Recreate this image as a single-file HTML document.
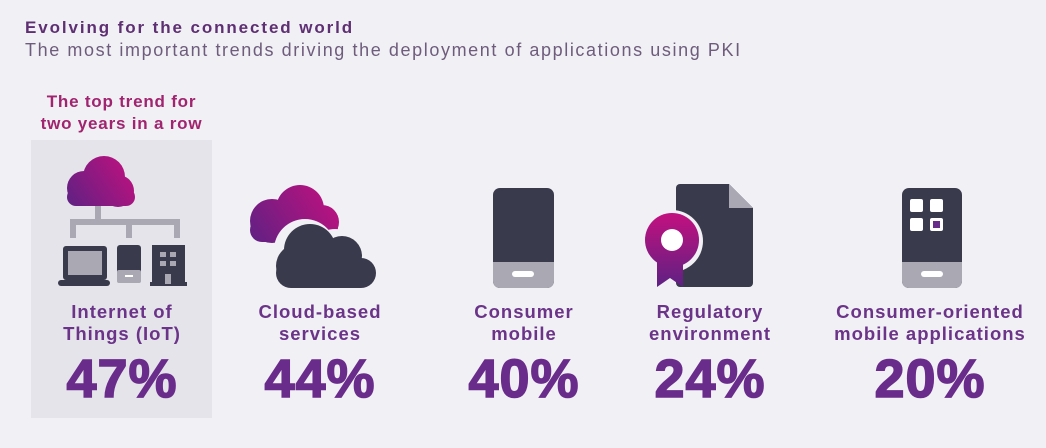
<!DOCTYPE html>
<html><head><meta charset="utf-8"><style>
body{margin:0;width:1046px;height:448px;background:#f1f0f5;font-family:"Liberation Sans",sans-serif;position:relative;overflow:hidden}
.t{position:absolute;white-space:nowrap}
.lab{position:absolute;text-align:center;font-weight:bold;font-size:18.5px;line-height:22px;color:#6b3488;width:240px;letter-spacing:1px}
.pc{position:absolute;text-align:center;font-weight:bold;font-size:54px;color:#6a2c8b;width:240px;top:348px;letter-spacing:1px;-webkit-text-stroke:1.5px #6a2c8b}
</style></head><body>
<div class="t" style="left:25px;top:18px;font-size:17px;font-weight:bold;color:#5e2f72;letter-spacing:1.9px">Evolving for the connected world</div>
<div class="t" style="left:25px;top:40px;font-size:18px;color:#6e5c7c;letter-spacing:1.6px">The most important trends driving the deployment of applications using PKI</div>
<div class="t" style="left:31px;top:91px;width:181px;text-align:center;font-size:17px;font-weight:bold;line-height:22px;color:#a0246f;letter-spacing:0.8px">The top trend for<br>two years in a row</div>
<div style="position:absolute;left:31px;top:140px;width:181px;height:278px;background:#e5e4ea"></div>
<svg width="1046" height="448" style="position:absolute;left:0;top:0">
<defs>
<linearGradient id="g1" gradientUnits="userSpaceOnUse" x1="67" y1="206" x2="135" y2="160"><stop offset="0" stop-color="#5e2183"/><stop offset="1" stop-color="#c4107f"/></linearGradient>
<linearGradient id="g2" gradientUnits="userSpaceOnUse" x1="250" y1="245" x2="338" y2="187"><stop offset="0" stop-color="#5e2183"/><stop offset="1" stop-color="#c4107f"/></linearGradient>
<linearGradient id="g3" gradientUnits="userSpaceOnUse" x1="672" y1="287" x2="672" y2="212"><stop offset="0" stop-color="#5e2183"/><stop offset="1" stop-color="#c4107f"/></linearGradient>
</defs>
<!-- IoT -->
<g fill="url(#g1)"><circle cx="84" cy="188" r="17"/><circle cx="104" cy="177" r="21"/><circle cx="118" cy="191" r="16"/><rect x="67" y="188" width="68" height="18" rx="9"/></g>
<g fill="#a9a8b3"><rect x="95" y="206" width="6" height="13"/><rect x="70" y="219" width="110" height="6"/><rect x="70" y="219" width="6" height="19"/><rect x="126" y="219" width="6" height="19"/><rect x="174" y="219" width="6" height="19"/></g>
<rect x="63" y="246" width="44" height="34" rx="3" fill="#3a3a4d"/><rect x="68" y="251" width="34" height="24" fill="#a9a8b3"/><rect x="58" y="280" width="52" height="6" rx="3" fill="#3a3a4d"/>
<rect x="117" y="245" width="24" height="38" rx="3" fill="#3a3a4d"/><rect x="117" y="270" width="24" height="13" rx="2" fill="#a9a8b3"/><rect x="125" y="275" width="8" height="2" fill="#fff"/>
<rect x="152" y="245" width="33" height="41" fill="#3a3a4d"/><rect x="150" y="282" width="37" height="4" fill="#3a3a4d"/>
<g fill="#a9a8b3"><rect x="160" y="252" width="6" height="5"/><rect x="170" y="252" width="6" height="5"/><rect x="160" y="261" width="6" height="5"/><rect x="170" y="261" width="6" height="5"/><rect x="165" y="274" width="6" height="10"/></g>
<!-- Cloud-based -->
<g fill="url(#g2)"><circle cx="272" cy="221" r="22"/><circle cx="300" cy="209" r="24"/><circle cx="322" cy="222" r="17"/><rect x="250" y="218" width="88" height="24" rx="12"/></g>
<g fill="#f1f0f5"><circle cx="305" cy="250" r="31"/><circle cx="335" cy="256" r="27"/></g>
<g fill="#3a3a4d"><circle cx="310" cy="250" r="26"/><circle cx="342" cy="256" r="20"/><circle cx="298" cy="266" r="22"/><rect x="276" y="258" width="100" height="30" rx="15"/></g>
<!-- Consumer mobile -->
<rect x="493" y="188" width="61" height="100" rx="7" fill="#3a3a4d"/><path d="M493 262h61v19a7 7 0 0 1-7 7h-47a7 7 0 0 1-7-7z" fill="#a9a8b3"/><rect x="512" y="271" width="22" height="6" rx="3" fill="#fff"/>
<!-- Regulatory -->
<path d="M680 184h49l24 24v75a4 4 0 0 1-4 4h-69a4 4 0 0 1-4-4v-95a4 4 0 0 1 4-4z" fill="#3a3a4d"/><path d="M729 184l24 24h-24z" fill="#a9a8b3"/>
<circle cx="672" cy="241" r="31" fill="#f1f0f5"/>
<path d="M657 252v35l13-9 13 9v-35z" fill="url(#g3)"/>
<circle cx="672" cy="240" r="27" fill="url(#g3)"/><circle cx="672" cy="240" r="11" fill="#fff"/>
<!-- Consumer-oriented -->
<rect x="902" y="188" width="60" height="100" rx="7" fill="#3a3a4d"/><path d="M902 262h60v19a7 7 0 0 1-7 7h-46a7 7 0 0 1-7-7z" fill="#a9a8b3"/><rect x="921" y="271" width="22" height="6" rx="3" fill="#fff"/>
<g fill="#fff"><rect x="910" y="199" width="13" height="13" rx="2"/><rect x="930" y="199" width="13" height="13" rx="2"/><rect x="910" y="218" width="13" height="13" rx="2"/><rect x="930" y="218" width="13" height="13" rx="2"/></g>
<rect x="933" y="221" width="7" height="7" fill="#6a2c8b"/>
</svg>
<div class="lab" style="left:2px;top:301px">Internet of<br>Things (IoT)</div>
<div class="lab" style="left:200px;top:301px">Cloud-based<br>services</div>
<div class="lab" style="left:404px;top:301px">Consumer<br>mobile</div>
<div class="lab" style="left:590px;top:301px">Regulatory<br>environment</div>
<div class="lab" style="left:810px;top:301px">Consumer-oriented<br>mobile applications</div>
<div class="pc" style="left:2px">47%</div>
<div class="pc" style="left:200px">44%</div>
<div class="pc" style="left:404px">40%</div>
<div class="pc" style="left:590px">24%</div>
<div class="pc" style="left:810px">20%</div>
</body></html>
